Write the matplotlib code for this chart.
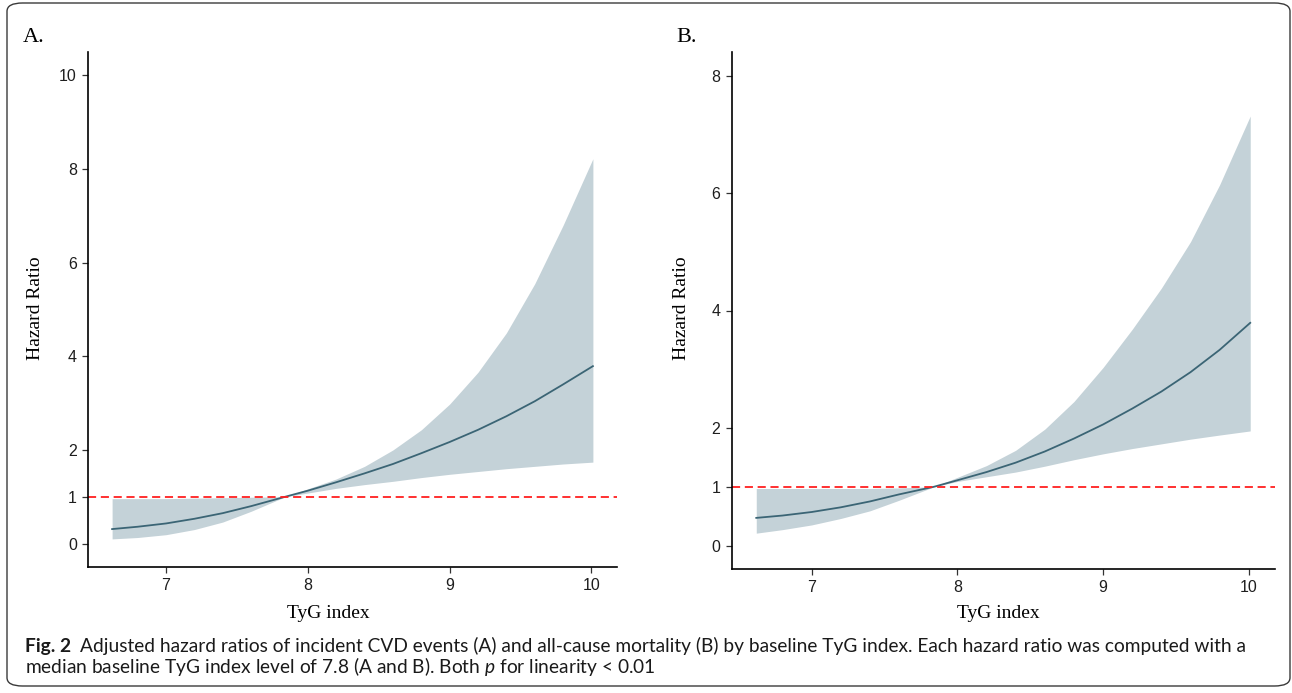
import matplotlib
matplotlib.use("Agg")
import matplotlib.pyplot as plt
from matplotlib.patches import FancyBboxPatch

# TyG index grid
tyg = [6.62, 6.8, 7.0, 7.2, 7.4, 7.6, 7.84, 8.0, 8.2, 8.4, 8.6, 8.8,
       9.0, 9.2, 9.4, 9.6, 9.8, 10.01]

# Panel A: incident CVD events
hr_a = [0.31, 0.36, 0.43, 0.53, 0.65, 0.80, 1.0, 1.13, 1.31, 1.50, 1.70, 1.93,
        2.17, 2.43, 2.72, 3.04, 3.40, 3.79]
lo_a = [0.10, 0.13, 0.19, 0.30, 0.46, 0.69, 1.0, 1.08, 1.18, 1.26, 1.33, 1.41,
        1.48, 1.54, 1.60, 1.65, 1.70, 1.74]
hi_a = [0.96, 0.96, 0.96, 0.97, 0.98, 0.99, 1.0, 1.17, 1.38, 1.65, 2.00, 2.43,
        2.98, 3.66, 4.50, 5.55, 6.80, 8.22]

# Panel B: all-cause mortality
hr_b = [0.47, 0.51, 0.57, 0.65, 0.75, 0.87, 1.0, 1.11, 1.25, 1.41, 1.60, 1.82,
        2.06, 2.33, 2.62, 2.95, 3.33, 3.79]
lo_b = [0.21, 0.27, 0.35, 0.46, 0.59, 0.77, 1.0, 1.09, 1.17, 1.25, 1.35, 1.46,
        1.56, 1.65, 1.73, 1.81, 1.88, 1.95]
hi_b = [0.97, 0.97, 0.97, 0.97, 0.97, 0.98, 1.0, 1.16, 1.36, 1.62, 1.98, 2.45,
        3.03, 3.68, 4.38, 5.17, 6.14, 7.31]

xticks = [7, 8, 9, 10]
yticks_a = [0, 1, 2, 4, 6, 8, 10]
yticks_b = [0, 1, 2, 4, 6, 8]

plt.rcParams['mathtext.fontset'] = 'custom'
plt.rcParams['mathtext.rm'] = 'Lato'
plt.rcParams['mathtext.it'] = 'Lato:italic'

W, H = 1292, 693
fig = plt.figure(figsize=(W / 100, H / 100), dpi=100)

# rounded frame around the whole figure
frame = FancyBboxPatch((7 / W, 7 / H), 1283 / W, 683 / H,
                       boxstyle="round,pad=0,rounding_size=0.012",
                       transform=fig.transFigure, fill=False,
                       edgecolor='#3a3a3a', linewidth=1.0)
fig.patches.append(frame)

ribbon_col = '#c4d2d8'
line_col = '#3b6575'


def draw_panel(rect, hr, lo, hi, ylim, yticks):
    ax = fig.add_axes(rect)
    ax.fill_between(tyg, lo, hi, color=ribbon_col, linewidth=0)
    ax.plot(tyg, hr, color=line_col, linewidth=1.3)
    ax.axhline(1, color='#ff2020', linewidth=1.3, dashes=(4.5, 2.6))
    ax.set_xlim(6.45, 10.18)
    ax.set_ylim(*ylim)
    ax.set_xticks(xticks)
    ax.set_yticks(yticks)
    for s in ['top', 'right']:
        ax.spines[s].set_visible(False)
    for s in ['left', 'bottom']:
        ax.spines[s].set_linewidth(1.2)
        ax.spines[s].set_color('black')
    ax.tick_params(length=4, width=0.9, color='#333333', pad=4,
                   labelsize=11.5, labelcolor='#1e1e1e')
    for lab in ax.get_xticklabels() + ax.get_yticklabels():
        lab.set_fontfamily('Liberation Sans')
    return ax


draw_panel([88 / W, 1 - 567 / H, 529 / W, 515 / H],
           hr_a, lo_a, hi_a, (-0.5, 10.5), yticks_a)
draw_panel([731.5 / W, 1 - 569 / H, 543.5 / W, 517 / H],
           hr_b, lo_b, hi_b, (-0.4, 8.4), yticks_b)

serif = 'Liberation Serif'
fig.text(23 / W, 1 - 42 / H, 'A.', family=serif, fontsize=16, va='baseline')
fig.text(676 / W, 1 - 42 / H, 'B.', family=serif, fontsize=16, va='baseline')

for xc in (35, 682):
    fig.text(xc / W, 1 - 308 / H, 'Hazard Ratio', family=serif, fontsize=14,
             rotation=90, ha='center', va='center')
for xc in (328, 998):
    fig.text(xc / W, 1 - 613 / H, 'TyG index', family=serif, fontsize=14,
             ha='center', va='center')

# caption: bold "Fig. 2" then the rest of line 1 right after it
fig_lab = fig.text(25 / W, 1 - 652 / H, 'Fig. 2', family='Lato', weight='bold',
                   fontsize=13.8, va='baseline', color='#1a1a1a')
renderer = fig.canvas.get_renderer()
lab_end = fig_lab.get_window_extent(renderer).x1
cap1 = ('Adjusted hazard ratios of incident CVD events (A) and all-cause mortality (B) '
        'by baseline TyG index. Each hazard ratio was computed with a')
cap2 = r'median baseline TyG index level of 7.8 (A and B). Both $\mathit{p}$ for linearity < 0.01'
fig.text((lab_end + 9) / W, 1 - 652 / H, cap1, family='Lato', fontsize=13.8,
         va='baseline', color='#1a1a1a')
fig.text(25 / W, 1 - 673 / H, cap2, family='Lato', fontsize=13.8,
         va='baseline', color='#1a1a1a')

fig.savefig('out.png', dpi=100)
